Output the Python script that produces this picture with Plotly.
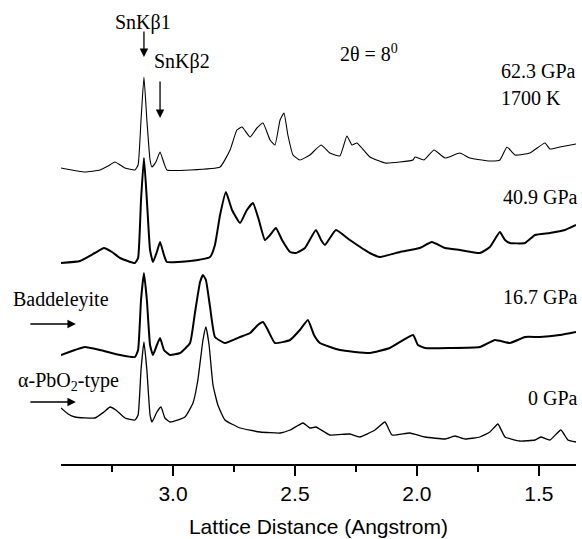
import plotly.graph_objects as go

# ---- data (d in Angstrom, intensities arbitrary units) ----
d_623 = [3.459, 3.361, 3.299, 3.266, 3.238, 3.197, 3.156, 3.143, 3.131, 3.119, 3.107, 3.094, 3.086,
         3.070, 3.053, 3.037, 3.025, 2.930, 2.807, 2.766, 2.738, 2.717, 2.684, 2.656, 2.631, 2.602,
         2.582, 2.561, 2.545, 2.529, 2.508, 2.480, 2.439, 2.393, 2.357, 2.316, 2.287, 2.266, 2.246,
         2.193, 2.131, 2.070, 2.016, 2.008, 1.971, 1.930, 1.885, 1.824, 1.783, 1.701, 1.660, 1.631,
         1.598, 1.537, 1.475, 1.455, 1.414, 1.348]
i_623 = [2, -2, 0, 4, 8, 2, 0, 5, 50, 93, 50, 10, 3,
         8, 18, 7, 0, 0, 3, 20, 40, 43, 33, 42, 47, 30,
         25, 50, 57, 35, 15, 10, 15, 25, 17, 14, 34, 25, 27,
         13, 7, 8, 10, 13, 10, 20, 12, 17, 12, 9, 10, 23,
         15, 17, 27, 21, 23, 26]

d_409 = [3.459, 3.381, 3.320, 3.283, 3.250, 3.217, 3.156, 3.143, 3.131, 3.119, 3.107, 3.094, 3.082,
         3.066, 3.053, 3.037, 3.025, 2.930, 2.848, 2.828, 2.807, 2.783, 2.758, 2.725, 2.697, 2.672,
         2.648, 2.623, 2.602, 2.578, 2.553, 2.520, 2.496, 2.459, 2.414, 2.393, 2.377, 2.332, 2.275,
         2.193, 2.152, 2.070, 1.988, 1.939, 1.885, 1.824, 1.742, 1.701, 1.660, 1.639, 1.619, 1.557,
         1.516, 1.455, 1.393, 1.348]
i_409 = [0, 2, 10, 15, 11, 5, 0, 5, 63, 105, 63, 13, 1,
         11, 21, 8, 1, 2, 6, 18, 48, 71, 53, 40, 53, 60,
         43, 23, 28, 35, 23, 11, 10, 15, 33, 23, 18, 33, 23,
         10, 6, 11, 15, 21, 15, 13, 10, 16, 31, 23, 20, 20,
         28, 30, 33, 38]

d_167 = [3.459, 3.402, 3.361, 3.299, 3.217, 3.156, 3.143, 3.131, 3.119, 3.107, 3.094, 3.082, 3.066,
         3.053, 3.037, 3.012, 2.971, 2.930, 2.910, 2.889, 2.877, 2.865, 2.848, 2.828, 2.787, 2.725,
         2.684, 2.652, 2.631, 2.611, 2.582, 2.520, 2.480, 2.447, 2.422, 2.398, 2.316, 2.193, 2.111,
         2.016, 1.996, 1.967, 1.865, 1.742, 1.680, 1.619, 1.557, 1.496, 1.414, 1.348]
i_167 = [0, 5, 8, 5, 0, -2, 5, 55, 82, 55, 10, 0, 10,
         17, 5, 0, 2, 12, 42, 73, 80, 75, 48, 18, 12, 18,
         22, 30, 33, 25, 12, 15, 25, 35, 20, 12, 5, 2, 7,
         20, 10, 7, 7, 8, 15, 12, 18, 18, 20, 23]

d_0 = [3.459, 3.430, 3.402, 3.320, 3.283, 3.258, 3.234, 3.197, 3.156, 3.143, 3.131, 3.119, 3.107,
       3.094, 3.086, 3.066, 3.049, 3.033, 3.012, 2.951, 2.918, 2.898, 2.877, 2.865, 2.852, 2.836,
       2.816, 2.787, 2.725, 2.643, 2.561, 2.520, 2.467, 2.439, 2.414, 2.357, 2.275, 2.234, 2.172,
       2.131, 2.102, 2.029, 1.967, 1.885, 1.844, 1.803, 1.742, 1.701, 1.668, 1.639, 1.578, 1.516,
       1.492, 1.455, 1.410, 1.381, 1.348]
i_0 = [34, 28, 25, 24, 30, 35, 32, 24, 22, 27, 72, 100, 72,
       27, 20, 30, 35, 24, 20, 25, 39, 62, 102, 115, 97, 57,
       37, 22, 14, 10, 9, 12, 19, 14, 15, 7, 8, 5, 12,
       20, 7, 9, 5, 3, 6, 3, 5, 10, 18, 5, 1, 2,
       5, 2, 12, 2, 0]

spectra_d = [d_623, d_409, d_167, d_0]
spectra_i = [i_623, i_409, i_167, i_0]
offsets = [294, 201, 109, 22]
widths = [1.1, 2.0, 2.0, 1.3]

tick_vals = [3.0, 2.5, 2.0, 1.5]
tick_text = ["3.0", "2.5", "2.0", "1.5"]
X_RANGE = [3.459, 1.348]
Y_RANGE = [0, 464]

fig = go.Figure()
for d, inten, off, w in zip(spectra_d, spectra_i, offsets, widths):
    fig.add_trace(go.Scatter(x=d, y=[v + off for v in inten], mode="lines",
                             line=dict(color="black", width=w, shape="spline", smoothing=0.4),
                             showlegend=False, hoverinfo="skip"))

def px(d):
    return (X_RANGE[0] - d) / (X_RANGE[0] - X_RANGE[1])

def py(y):
    return (y - Y_RANGE[0]) / (Y_RANGE[1] - Y_RANGE[0])

serif = "Liberation Serif"
ann = []
def txt(x, y, t, xanchor="center", yanchor="middle"):
    ann.append(dict(x=px(x), y=py(y), xref="paper", yref="paper", text=t, showarrow=False,
                    xanchor=xanchor, yanchor=yanchor, borderpad=0,
                    font=dict(family=serif, size=20, color="black")))

def arrow(x, y, ax, ay):
    ann.append(dict(x=px(x), y=py(y), xref="paper", yref="paper", text="", showarrow=True,
                    ax=ax, ay=ay, arrowhead=2, arrowsize=1.3, arrowwidth=1.3,
                    arrowcolor="black"))

txt(3.123, 441, "SnKβ1")
txt(2.963, 403, "SnKβ2")
txt(2.197, 411, "2θ = 8<sup>0</sup>")
txt(1.660, 393, "62.3 GPa", xanchor="left")
txt(1.660, 366, "1700 K", xanchor="left")
txt(1.336, 267, "40.9 GPa", xanchor="right")
txt(1.336, 167, "16.7 GPa", xanchor="right")
txt(1.336, 66, "0 GPa", xanchor="right")
txt(3.660, 165, "Baddeleyite", xanchor="left")
txt(3.639, 83, "α-PbO<sub>2</sub>-type", xanchor="left")

arrow(3.119, 407, 0, -27)
arrow(3.053, 346, 0, -38)
arrow(3.398, 140, -47, 0)
arrow(3.398, 62, -47, 0)

fig.update_layout(
    width=582, height=539,
    margin=dict(l=61, r=6, t=0, b=75, autoexpand=False),
    paper_bgcolor="white", plot_bgcolor="white",
    annotations=ann,
    xaxis=dict(range=X_RANGE, tickvals=tick_vals, ticktext=tick_text, automargin=False,
               showline=True, linecolor="black", linewidth=1.5,
               ticks="outside", ticklen=10, tickwidth=1.5, tickcolor="black",
               minor=dict(tickvals=[3.25, 2.75, 2.25, 1.75], ticks="outside", ticklen=6,
                          tickwidth=1.5, tickcolor="black"),
               showgrid=False, zeroline=False,
               tickfont=dict(family="Liberation Sans", size=21, color="black"),
               title=dict(text="Lattice Distance (Angstrom)", standoff=15,
                          font=dict(family="Liberation Sans", size=21, color="black"))),
    yaxis=dict(range=Y_RANGE, visible=False, showgrid=False, zeroline=False),
)

fig.write_html("out.html", config={"displayModeBar": False},
               post_script="document.body.style.margin='0';")
